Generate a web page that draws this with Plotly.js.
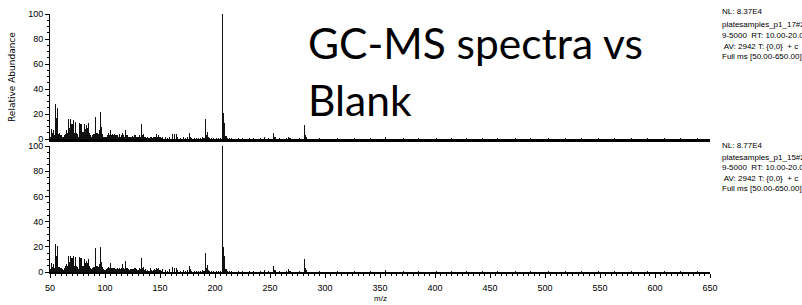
<!DOCTYPE html>
<html>
<head>
<meta charset="utf-8">
<script src="https://cdn.plot.ly/plotly-3.0.1.min.js"></script>
<style>html,body{margin:0;padding:0;background:#fff;}#chart{width:802px;height:305px;}</style>
</head>
<body>
<div id="chart"></div>
<script>
// ---- Sample spectrum (top panel): m/z and relative abundance ----
const mzSample = [
  50,51,52,53,54,55,56,57,58,59,
  60,61,62,63,64,65,66,67,68,69,
  70,71,72,73,74,75,76,77,78,79,
  80,81,82,83,84,85,86,87,88,89,
  90,91,92,93,94,95,96,97,98,99,
  100,101,102,103,104,105,106,107,108,109,
  110,111,112,113,114,115,116,117,118,119,
  120,121,122,123,124,125,126,127,128,129,
  130,131,132,133,134,135,136,137,138,139,
  140,141,142,143,144,145,146,147,148,149,150,
  151,152,155,157,159,161,163,165,166,169,
  171,173,175,177,178,179,181,183,185,187,
  189,190,191,192,193,194,195,197,199,201,
  203,205,207,208,209,210,211,213,215,221,
  225,231,235,241,245,249,253,254,255,259,
  265,267,268,269,277,281,282,283,295,311,
  327,341,355,371,385,401,415,429,443,457,
  473,487,503,519,533,549,563,579,593,609,623,639
];
const abSample = [
  2,8,5,7,3,28,17,25,4,5,
  3,2,1.5,3,4,7,5,16,9,16,
  12,15,5,14,5,4,2,13,12,12,
  6,12,8,11,9,13,5,3,2,3,
  4,18,5,5,4,7,22,10,4,2,
  1.5,2,3,5,3,7,3,4,3,4,
  3,3,2,4,2,3,5,3,2,7,
  3,2,1.5,2,2,2.5,2,3,3,2,
  1.5,3,2,12,3,4,1.5,2,1,1.5,
  1,2,1.5,1,1.5,2,1.5,4,2,3,1.5,
  1,2,1.5,1,2,4,4,4,1.5,1,
  1.5,1,1.5,4.5,2,1,1,1,0.8,1,
  1.5,1,16,3,6,1.5,1,0.8,0.8,0.5,
  1,1,100,20.5,13,2.5,1,0.5,0.8,1,
  0.6,0.5,0.7,0.5,1.5,0.6,5,1.5,1.5,0.6,
  1,2,1,0.5,0.5,11,3,1.5,0.8,0.6,
  1,0.8,1.5,0.6,0.5,0.6,0.5,0.8,0.5,0.6,
  0.5,0.6,0.5,0.5,0.6,0.5,0.5,0.6,0.5,0.5,0.6,0.5
];

// ---- Blank spectrum (bottom panel) ----
const mzBlank = [
  50,51,52,53,54,55,56,57,58,59,
  60,61,62,63,64,65,66,67,68,69,
  70,71,72,73,74,75,76,77,78,79,
  80,81,82,83,84,85,86,87,88,89,
  90,91,92,93,94,95,96,97,98,99,
  100,101,102,103,104,105,106,107,108,109,
  110,111,112,113,114,115,116,117,118,119,
  120,121,122,123,124,125,126,127,128,129,
  130,131,132,133,134,135,136,137,138,139,
  140,141,142,143,144,145,146,147,148,149,150,
  151,152,155,157,159,161,163,165,166,169,
  171,173,175,177,178,179,181,183,185,187,
  189,190,191,192,193,194,195,197,199,201,
  203,205,207,208,209,210,211,213,215,221,
  225,231,235,241,245,249,253,254,255,259,
  265,267,268,269,277,281,282,283,295,311,
  327,341,355,371,385,401,415,429,443,457,
  473,487,503,519,533,549,563,579,593,609,623,639
];
const abBlank = [
  2,7,4,6,3,22,13,21,4,4,
  3,2,1.5,3,5,6,5,13,8,13,
  11,13,5,12,5,4,2,12,11,11,
  5,10,7,9,7,10,5,3,2,3,
  4,19,5,5,4,6,20,8,4,2,
  1.5,2,3,4,3,7,3,3,3,3,
  2.5,3,2,3,2,3,6,3,2,8.5,
  3,2,1.5,2,2,2.5,2,3,3,2,
  1.5,3,2,11,3,4,1.5,2,1,1.5,
  1,3,1.5,1,1.5,2,1.5,3.5,2,3,1.5,
  1,2,1.5,1,2,4,3,3,1.5,1,
  1.5,1,1.5,5,2,1,1,1,0.8,1,
  1.5,1,15,3,5.5,1.5,1,0.8,0.8,0.5,
  1,1,100,20,13,2.5,1,0.5,0.8,1,
  0.6,0.5,0.7,0.5,1.5,0.6,4.5,1.5,1.5,0.6,
  1,2.5,1,0.5,0.5,10,3,1.5,0.8,0.6,
  1,0.8,1.5,0.6,0.5,0.6,0.5,0.8,0.5,0.6,
  0.5,0.6,0.5,0.5,0.6,0.5,0.5,0.6,0.5,0.5,0.6,0.5
];

// ---- Text ----
const chartTitleLines = ['GC-MS spectra vs', 'Blank'];
const yTitle = 'Relative Abundance';
const xTitle = 'm/z';
const infoSample = ['NL: 8.37E4', 'platesamples_p1_17#2', '9-5000  RT: 10.00-20.0', ' AV: 2942 T: {0,0}  + c', 'Full ms [50.00-650.00]'];
const infoBlank  = ['NL: 8.77E4', 'platesamples_p1_15#2', '9-5000  RT: 10.00-20.0', ' AV: 2942 T: {0,0}  + c', 'Full ms [50.00-650.00]'];

// pixel helpers (plot area: x 50..710, y 14..272)
const PL = 50, PW = 660, PB = 272, PH = 258;
const px = v => (v - PL) / PW;
const py = v => (PB - v) / PH;

const narrow = 'Liberation Sans Narrow, Arial Narrow, Liberation Sans, Arial, sans-serif';
const tickFont = {family: narrow, size: 9, color: '#000'};

const barStyle = {type: 'bar', width: 1.0, marker: {color: '#111', line: {width: 0}}, hoverinfo: 'skip'};

const traces = [
  Object.assign({x: mzBlank, y: abBlank, xaxis: 'x', yaxis: 'y'}, barStyle),
  Object.assign({x: mzSample, y: abSample, xaxis: 'x2', yaxis: 'y2'}, barStyle)
];

const yBase = {
  range: [0, 100], dtick: 20, tick0: 0, showline: true, linecolor: '#000', linewidth: 1,
  ticks: 'outside', ticklen: 4, tickwidth: 1, tickcolor: '#000', tickfont: tickFont,
  minor: {dtick: 5, ticks: 'outside', ticklen: 2, tickcolor: '#000'},
  showgrid: false, zeroline: false, fixedrange: true
};

const annotations = [];
function note(text, x, y, opts) {
  annotations.push(Object.assign({text: text, xref: 'paper', yref: 'paper', x: x, y: y,
    showarrow: false, xanchor: 'left', yanchor: 'middle', borderpad: 0}, opts || {}));
}
const titleFont = {family: 'Lato, Noto Sans, sans-serif', size: 42.5, color: '#000'};
note(chartTitleLines[0], px(307), py(43), {font: titleFont});
note(chartTitleLines[1], px(307), py(99), {font: titleFont});
note(yTitle, px(12), py(77), {textangle: -90, xanchor: 'center', font: {family: 'DejaVu Sans, sans-serif', size: 9, color: '#000'}});
note(xTitle, px(380), py(298), {xanchor: 'center', font: {family: narrow, size: 8, color: '#000'}});
const infoYTop = [12, 25, 35.5, 46, 56.5];
const infoYBot = [145, 157, 167.5, 178, 188.5];
const infoFont = {family: narrow, size: 8, color: '#000'};
infoSample.forEach((t, i) => note(t, px(721), py(infoYTop[i]), {font: infoFont}));
infoBlank.forEach((t, i) => note(t, px(721), py(infoYBot[i]), {font: infoFont}));

const layout = {
  width: 802, height: 305,
  margin: {l: PL, r: 802 - PL - PW, t: 14, b: 305 - PB},
  paper_bgcolor: '#fff', plot_bgcolor: '#fff',
  showlegend: false, hovermode: false, bargap: 0,
  xaxis: {
    range: [50, 650], domain: [0, 1], anchor: 'y', tick0: 50, dtick: 50,
    showline: true, linecolor: '#000', linewidth: 1.5,
    ticks: 'outside', ticklen: 4, tickwidth: 1, tickcolor: '#000', tickfont: tickFont,
    ticklabelstandoff: 3,
    minor: {dtick: 5, ticks: 'outside', ticklen: 2, tickcolor: '#000'},
    showgrid: false, zeroline: false, fixedrange: true
  },
  xaxis2: {
    matches: 'x', range: [50, 650], domain: [0, 1], anchor: 'y2',
    showline: true, linecolor: '#000', linewidth: 2.5, ticks: '', showticklabels: false,
    showgrid: false, zeroline: false, fixedrange: true
  },
  yaxis: Object.assign({domain: [0, py(146)], anchor: 'x'}, yBase),
  yaxis2: Object.assign({domain: [py(139), 1], anchor: 'x2'}, yBase),
  annotations: annotations
};

Plotly.newPlot('chart', traces, layout, {staticPlot: true, displayModeBar: false});
</script>
</body>
</html>
